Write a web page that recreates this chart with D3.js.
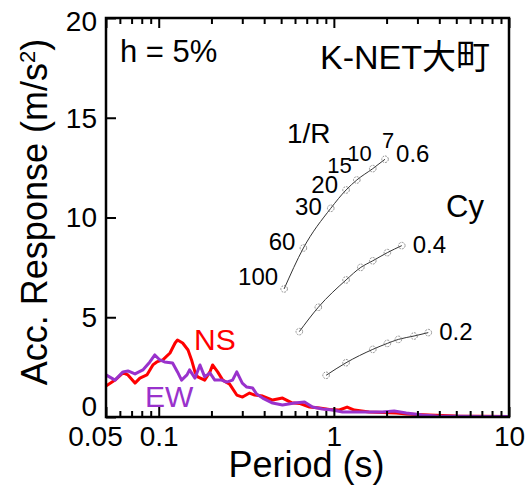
<!DOCTYPE html>
<html>
<head>
<meta charset="utf-8">
<script src="https://cdn.jsdelivr.net/npm/d3@7"></script>
<style>
  body { margin: 0; background: #fff; }
  text { font-family: "Liberation Sans", Arial, "Noto Sans CJK JP", sans-serif; }
</style>
</head>
<body>
<div id="chart-area"></div>
<script>
// acceleration response spectra, h = 5%
var nsPeriod = [0.05, 0.0563, 0.0625, 0.0667, 0.0732, 0.0781, 0.0856, 0.0926, 0.0975, 0.1056, 0.116, 0.124, 0.128, 0.137, 0.147, 0.154, 0.161, 0.167, 0.183, 0.196, 0.203, 0.217, 0.232, 0.254, 0.279, 0.301, 0.33, 0.353, 0.392, 0.447, 0.509, 0.573, 0.636, 0.726, 0.828, 0.944, 1.076, 1.19, 1.31, 1.59, 2.27, 2.6, 3.5, 5, 10];
var nsAcc    = [1.55, 1.85, 2.21, 2.11, 1.70, 1.95, 2.11, 2.61, 2.76, 2.86, 3.21, 3.71, 3.86, 3.71, 3.36, 2.86, 2.26, 2.01, 1.85, 2.26, 2.61, 2.26, 1.85, 1.65, 1.10, 1.00, 1.20, 1.10, 1.05, 0.85, 0.95, 0.72, 0.68, 0.50, 0.45, 0.38, 0.35, 0.50, 0.35, 0.25, 0.20, 0.15, 0.10, 0.05, 0.02];

var ewPeriod = [0.05, 0.0563, 0.0625, 0.0667, 0.0732, 0.0812, 0.089, 0.095, 0.1015, 0.108, 0.12, 0.128, 0.135, 0.145, 0.15, 0.161, 0.172, 0.183, 0.196, 0.209, 0.229, 0.244, 0.264, 0.279, 0.3, 0.318, 0.344, 0.362, 0.392, 0.447, 0.509, 0.596, 0.68, 0.755, 0.861, 0.981, 1.12, 1.34, 1.59, 1.89, 2.21, 2.59, 3.19, 3.84, 7, 10];
var ewAcc    = [2.11, 1.85, 2.26, 2.31, 2.16, 2.36, 2.76, 3.11, 2.86, 2.76, 2.71, 2.26, 1.85, 2.11, 2.36, 1.95, 2.61, 2.01, 2.21, 1.85, 1.85, 1.75, 1.85, 2.26, 1.70, 1.50, 1.45, 1.15, 0.95, 0.70, 0.60, 0.70, 0.75, 0.50, 0.40, 0.35, 0.25, 0.25, 0.25, 0.25, 0.30, 0.20, 0.10, 0.05, 0.03, 0.02];

// required strength spectra for Cy = 0.6 / 0.4 / 0.2, points at 1/R
var rValues = [100, 60, 30, 20, 15, 10, 7];
var cy06Period = [0.520, 0.670, 0.960, 1.174, 1.352, 1.668, 1.960];
var cy06Acc    = [6.42, 8.47, 10.46, 11.38, 11.88, 12.45, 12.92];
var cy04Period = [0.635, 0.815, 1.174, 1.425, 1.668, 2.021, 2.442];
var cy04Acc    = [4.28, 5.50, 6.87, 7.50, 7.83, 8.24, 8.59];
var cy02Period = [0.903, 1.174, 1.668, 2.021, 2.335, 2.870, 3.46];
var cy02Acc    = [2.09, 2.72, 3.39, 3.69, 3.89, 4.06, 4.23];
var cyLabels = ["0.6", "0.4", "0.2"];

var xMajor = [0.05, 0.1, 1, 10];
var xMinor = [0.06, 0.07, 0.08, 0.09, 0.2, 0.3, 0.4, 0.5, 0.6, 0.7, 0.8, 0.9, 2, 3, 4, 5, 6, 7, 8, 9];
var yTicks = [0, 5, 10, 15, 20];

var margin = {top: 18, right: 22, bottom: 71, left: 106};
var width = 531 - margin.left - margin.right;
var height = 488 - margin.top - margin.bottom;

var svg = d3.select("#chart-area").append("svg").attr("width", 531).attr("height", 488);
var g = svg.append("g").attr("transform", "translate(" + margin.left + "," + margin.top + ")");

var x = d3.scaleLog().domain([0.05, 10]).range([0, width]);
var y = d3.scaleLinear().domain([0, 20]).range([height, 0]);

g.append("clipPath").attr("id", "clip")
    .append("rect").attr("width", width).attr("height", height);

var line = d3.line()
    .x(function(d) { return x(d[0]); })
    .y(function(d) { return y(d[1]); });

var ns = d3.zip(nsPeriod, nsAcc);
var ew = d3.zip(ewPeriod, ewAcc);

var plot = g.append("g").attr("clip-path", "url(#clip)");
plot.append("path").datum(ns)
    .attr("d", line).attr("fill", "none")
    .attr("stroke", "#ff0000").attr("stroke-width", 3).attr("stroke-linejoin", "round");
plot.append("path").datum(ew)
    .attr("d", line).attr("fill", "none")
    .attr("stroke", "#9932cc").attr("stroke-width", 3).attr("stroke-linejoin", "round");

// Cy curves
var cyCurves = [d3.zip(cy06Period, cy06Acc), d3.zip(cy04Period, cy04Acc), d3.zip(cy02Period, cy02Acc)];
var smooth = d3.line().curve(d3.curveMonotoneX)
    .x(function(d) { return x(d[0]); })
    .y(function(d) { return y(d[1]); });

cyCurves.forEach(function(pts, i) {
    g.append("path").datum(pts)
        .attr("d", smooth).attr("fill", "none")
        .attr("stroke", "#333").attr("stroke-width", 1);
    g.selectAll(".pt" + i).data(pts).enter().append("circle")
        .attr("class", "pt" + i)
        .attr("cx", function(d) { return x(d[0]); })
        .attr("cy", function(d) { return y(d[1]); })
        .attr("r", 3.3)
        .attr("fill", "none")
        .attr("stroke", "#777")
        .attr("stroke-width", 0.8)
        .attr("stroke-dasharray", "2,1");
    var last = pts[pts.length - 1];
    g.append("text")
        .attr("x", x(last[0]) + 11).attr("y", y(last[1]) + (i == 0 ? 3 : 7))
        .attr("font-size", "24px").text(cyLabels[i]);
});

// 1/R labels next to the Cy=0.6 points
var rOffset = [[-6, -4], [-8, 2], [-9, 7], [-8, 3], [-5, -7], [-1, -8], [3, -11]];
g.selectAll(".rlab").data(d3.zip(cy06Period, cy06Acc, rValues)).enter().append("text")
    .attr("class", "rlab")
    .attr("x", function(d, i) { return x(d[0]) + rOffset[i][0]; })
    .attr("y", function(d, i) { return y(d[1]) + rOffset[i][1]; })
    .attr("text-anchor", function(d, i) { return i == 6 ? "middle" : "end"; })
    .attr("font-size", function(d, i) { return i > 3 ? "22px" : "24px"; })
    .text(function(d) { return d[2]; });

g.append("text").attr("x", 287 - margin.left).attr("y", 143 - margin.top)
    .attr("font-size", "28px").text("1/R");
g.append("text").attr("x", 446 - margin.left).attr("y", 217 - margin.top)
    .attr("font-size", "31px").text("Cy");

g.append("text").attr("x", 194 - margin.left).attr("y", 350 - margin.top)
    .attr("font-size", "30px").attr("fill", "#ff0000").text("NS");
g.append("text").attr("x", 145 - margin.left).attr("y", 407 - margin.top)
    .attr("font-size", "30px").attr("fill", "#9932cc").text("EW");

g.append("text").attr("x", 120 - margin.left).attr("y", 62 - margin.top)
    .attr("font-size", "31px").text("h = 5%");
g.append("text").attr("x", 490 - margin.left).attr("y", 69 - margin.top)
    .attr("text-anchor", "end").attr("font-size", "34px").text("K-NET大町");

// axes
g.append("g").attr("transform", "translate(0," + height + ")")
    .call(d3.axisBottom(x).tickValues(xMinor).tickSize(-6).tickFormat(""));
var xMajorAxis = g.append("g").attr("transform", "translate(0," + height + ")")
    .call(d3.axisBottom(x).tickValues(xMajor).tickSize(-10).tickPadding(9)
        .tickFormat(function(d) { return d; }));
g.append("g").call(d3.axisTop(x).tickValues(xMinor).tickSize(-6).tickFormat(""));
g.append("g").call(d3.axisTop(x).tickValues(xMajor).tickSize(-10).tickFormat(""));
var yAxis = g.append("g")
    .call(d3.axisLeft(y).tickValues(yTicks).tickSize(-10).tickPadding(9));

g.selectAll(".domain").remove();
g.selectAll(".tick line").attr("stroke", "#000").attr("stroke-width", 2);
g.selectAll(".tick text").attr("fill", "#000").attr("font-family", "Liberation Sans, Arial, sans-serif");

xMajorAxis.selectAll(".tick text").attr("font-size", "28px")
    .attr("dx", function(d) { return d == 0.05 ? -11 : 0; });
yAxis.selectAll(".tick text").attr("font-size", "28px")
    .attr("dy", function(d) { return d == 0 ? "-0.05em" : (d == 20 ? "0.45em" : "0.33em"); });

g.append("rect").attr("width", width).attr("height", height)
    .attr("fill", "none").attr("stroke", "#000").attr("stroke-width", 2.5);

// axis labels
g.append("text").attr("x", width / 2 - 1).attr("y", height + 60)
    .attr("text-anchor", "middle").attr("font-size", "36px").text("Period (s)");

var yl = g.append("text")
    .attr("transform", "translate(" + (47 - margin.left) + "," + (212 - margin.top) + ") rotate(-90)")
    .attr("text-anchor", "middle").attr("font-size", "36px");
yl.append("tspan").text("Acc. Response (m/s");
yl.append("tspan").attr("font-size", "22px").attr("baseline-shift", "super").text("2");
yl.append("tspan").text(")");
</script>
</body>
</html>
